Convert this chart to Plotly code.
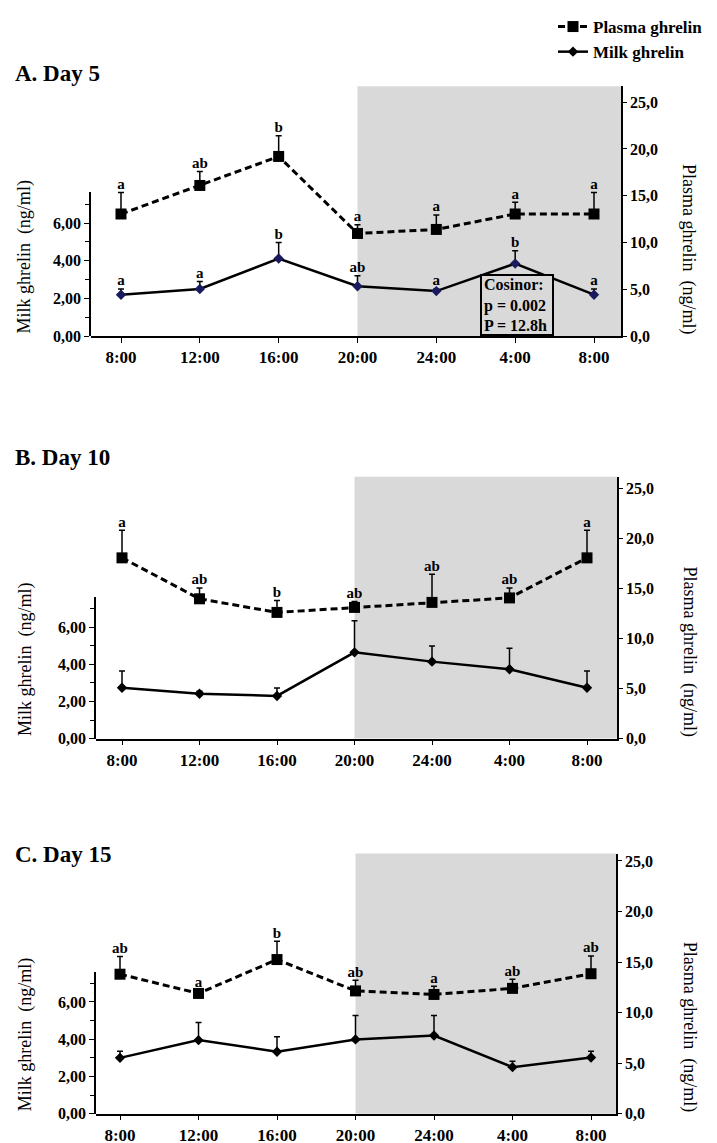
import plotly.graph_objects as go

# ---------------- data ----------------
times = ["8:00", "12:00", "16:00", "20:00", "24:00", "4:00", "8:00"]

plasma_a = [13.05, 16.1, 19.2, 10.97, 11.4, 13.05, 13.05]
plasma_a_top = [15.35, 17.6, 21.4, 11.9, 12.95, 14.3, 15.35]
plasma_a_lab = ["a", "ab", "b", "a", "a", "a", "a"]
milk_a = [2.2, 2.5, 4.12, 2.65, 2.39, 3.85, 2.2]
milk_a_top = [2.5, 2.9, 4.97, 3.2, 2.5, 4.53, 2.5]
milk_a_lab = ["a", "a", "b", "ab", "a", "b", "a"]

plasma_b = [18.05, 13.96, 12.6, 13.1, 13.6, 14.05, 18.05]
plasma_b_top = [20.8, 15.05, 13.8, 13.7, 16.4, 15.05, 20.8]
plasma_b_lab = ["a", "ab", "b", "ab", "ab", "ab", "a"]
milk_b = [2.74, 2.42, 2.3, 4.65, 4.15, 3.74, 2.74]
milk_b_top = [3.65, 2.55, 2.73, 6.36, 5.0, 4.87, 3.65]

plasma_c = [13.8, 11.9, 15.25, 12.15, 11.8, 12.4, 13.85]
plasma_c_top = [15.55, 12.2, 17.05, 13.2, 12.6, 13.3, 15.6]
plasma_c_lab = ["ab", "a", "b", "ab", "a", "ab", "ab"]
milk_c = [3.0, 3.95, 3.33, 3.99, 4.2, 2.5, 3.02]
milk_c_top = [3.35, 4.9, 4.13, 5.27, 5.27, 2.82, 3.35]

panel_titles = ["A. Day 5", "B. Day 10", "C. Day 15"]
cosinor_text = "Cosinor:<br>p = 0.002<br>P = 12.8h"

# ---------------- layout geometry (pixels) ----------------
W, H = 717, 1143
FONT = "Liberation Serif"
SHADE = "#d9d9d9"

panels = [
    dict(left=83, right=613, first=113, last=586, bottom=330, top=78, mtop=185,
         ps=9.44, ms=19.0, title_y=65,
         plasma=plasma_a, ptop=plasma_a_top, plab=plasma_a_lab,
         milk=milk_a, mtopv=milk_a_top, mlab=milk_a_lab, mcolor="#1a1a5e"),
    dict(left=88, right=609, first=114, last=579, bottom=736, top=472, mtop=593,
         ps=10.1, ms=18.7, title_y=452,
         plasma=plasma_b, ptop=plasma_b_top, plab=plasma_b_lab,
         milk=milk_b, mtopv=milk_b_top, mlab=None, mcolor="black"),
    dict(left=88, right=608, first=112, last=583, bottom=1114.5, top=852, mtop=972,
         ps=10.2, ms=18.8, title_y=853,
         plasma=plasma_c, ptop=plasma_c_top, plab=plasma_c_lab,
         milk=milk_c, mtopv=milk_c_top, mlab=None, mcolor="black"),
]

fig = go.Figure()
layout = dict(
    width=W, height=H, margin=dict(l=0, r=0, t=0, b=0),
    paper_bgcolor="white", plot_bgcolor="rgba(0,0,0,0)",
    separators=", ",
    font=dict(family=FONT, color="black"),
    showlegend=True,
    legend=dict(x=545 / W, y=1.0, xanchor="left", yanchor="top",
                bgcolor="rgba(0,0,0,0)", tracegroupgap=0,
                font=dict(family=FONT, size=17, color="black", weight="bold")),
)
shapes = []
annotations = []
idx = list(range(len(times)))

for i, p in enumerate(panels):
    xn = i + 1
    xa = "x" if xn == 1 else f"x{xn}"
    pa_n = 2 * i + 1
    ma_n = 2 * i + 2
    pa = "y" if pa_n == 1 else f"y{pa_n}"
    ma = f"y{ma_n}"
    sp = (p["last"] - p["first"]) / 6.0
    xmin = -(p["first"] - p["left"]) / sp
    xmax = 6 + (p["right"] - p["last"]) / sp
    ybot = 1 - p["bottom"] / H
    ytop = 1 - p["top"] / H
    ymtop = 1 - p["mtop"] / H
    prange = (p["bottom"] - p["top"]) / p["ps"]
    mrange = (p["bottom"] - p["mtop"]) / p["ms"]

    xkey = "xaxis" if xn == 1 else f"xaxis{xn}"
    pkey = "yaxis" if pa_n == 1 else f"yaxis{pa_n}"
    mkey = f"yaxis{ma_n}"

    layout[xkey] = dict(domain=[p["left"] / W, p["right"] / W], anchor=pa,
                        range=[xmin, xmax], tickvals=idx, ticktext=times,
                        showgrid=False, zeroline=False, showline=True,
                        linecolor="black", linewidth=1.5, ticks="outside",
                        ticklen=5, tickwidth=1.2, tickcolor="black",
                        tickfont=dict(family=FONT, size=17, weight="bold"))
    layout[pkey] = dict(domain=[ybot, ytop], anchor=xa, side="right",
                        range=[0, prange], dtick=5, tick0=0, tickformat=".1f",
                        showgrid=False, zeroline=False, showline=True,
                        linecolor="black", linewidth=1.5, ticks="outside",
                        ticklen=4, tickwidth=1.2, tickcolor="black",
                        tickfont=dict(family=FONT, size=16, weight="bold"))
    layout[mkey] = dict(domain=[ybot, ymtop], anchor=xa, side="left",
                        range=[0, mrange], dtick=2, tick0=0, tickformat=".2f",
                        showgrid=False, zeroline=False, showline=True,
                        linecolor="black", linewidth=1.5, ticks="outside",
                        ticklen=5, tickwidth=1.2, tickcolor="black",
                        minor=dict(dtick=1, ticks="outside", ticklen=4,
                                   tickcolor="black", tickwidth=1.2),
                        tickfont=dict(family=FONT, size=16, weight="bold"))

    # dark-phase shading
    shapes.append(dict(type="rect", xref=xa, yref="paper", x0=3, x1=xmax,
                       y0=ybot, y1=ytop, fillcolor=SHADE, line=dict(width=0),
                       layer="below"))

    p_err = [t - v for t, v in zip(p["ptop"], p["plasma"])]
    m_err = [t - v for t, v in zip(p["mtopv"], p["milk"])]
    zeros = [0] * len(idx)

    fig.add_trace(go.Scatter(
        x=idx, y=p["plasma"], xaxis=xa, yaxis=pa, mode="lines+markers",
        name="Plasma ghrelin", legendrank=1, showlegend=(i == 1),
        line=dict(color="black", width=3, dash="7px,4px"),
        marker=dict(symbol="square", size=11, color="black"),
        error_y=dict(type="data", symmetric=False, array=p_err,
                     arrayminus=zeros, color="black", thickness=1.5, width=3),
        cliponaxis=False))
    fig.add_trace(go.Scatter(
        x=idx, y=p["milk"], xaxis=xa, yaxis=ma, mode="lines+markers",
        name="Milk ghrelin", legendrank=2, showlegend=(i == 1),
        line=dict(color="black", width=2.5),
        marker=dict(symbol="diamond", size=8, color=p["mcolor"]),
        error_y=dict(type="data", symmetric=False, array=m_err,
                     arrayminus=zeros, color="black", thickness=1.5, width=3),
        cliponaxis=False))
    fig.add_trace(go.Scatter(
        x=idx, y=p["ptop"], xaxis=xa, yaxis=pa, mode="text", text=p["plab"],
        textposition="top center", showlegend=False, cliponaxis=False,
        textfont=dict(family=FONT, size=15, color="black", weight="bold")))
    if p["mlab"] is not None:
        fig.add_trace(go.Scatter(
            x=idx, y=p["mtopv"], xaxis=xa, yaxis=ma, mode="text", text=p["mlab"],
            textposition="top center", showlegend=False, cliponaxis=False,
            textfont=dict(family=FONT, size=15, color="black", weight="bold")))

    # panel title
    annotations.append(dict(text=panel_titles[i], xref="paper", yref="paper",
                            x=5 / W, y=1 - p["title_y"] / H, xanchor="left",
                            yanchor="middle", showarrow=False,
                            font=dict(family=FONT, size=23, weight="bold")))
    # axis titles
    annotations.append(dict(text="Milk ghrelin  (ng/ml)", xref="paper", yref="paper",
                            x=17 / W, y=ybot, xanchor="center", yanchor="bottom",
                            textangle=-90, showarrow=False,
                            font=dict(family=FONT, size=18)))
    annotations.append(dict(text="Plasma ghrelin  (ng/ml)", xref="paper", yref="paper",
                            x=681 / W, y=ybot, xanchor="center", yanchor="bottom",
                            textangle=90, showarrow=False,
                            font=dict(family=FONT, size=18)))

# cosinor box (panel A)
annotations.append(dict(text=cosinor_text, xref="x", yref="y", x=5.02, y=0,
                        xanchor="center", yanchor="bottom", align="left",
                        showarrow=False, bgcolor=SHADE, bordercolor="black",
                        borderwidth=2, borderpad=2, width=66, height=54,
                        font=dict(family=FONT, size=16, weight="bold")))

layout["shapes"] = shapes
layout["annotations"] = annotations
fig.update_layout(**layout)
fig.write_html("out.html")
